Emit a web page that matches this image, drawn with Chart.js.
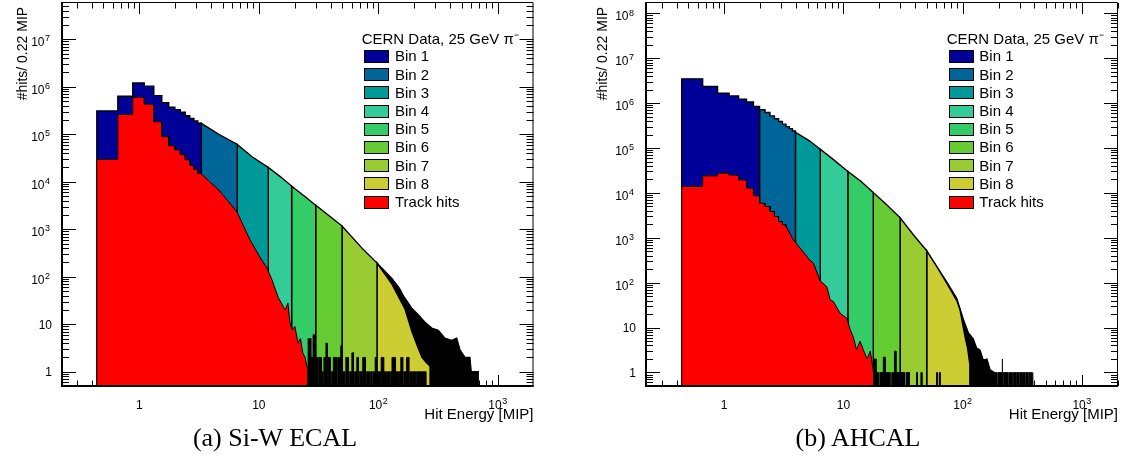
<!DOCTYPE html>
<html><head><meta charset="utf-8">
<script src="https://cdn.jsdelivr.net/npm/chart.js@4.4.1/dist/chart.umd.min.js"></script>
<style>
html,body{margin:0;padding:0;background:#fff;}
#wrap{position:relative;width:1124px;height:459px;overflow:hidden;background:#fff;}
canvas{position:absolute;top:0;}
.cap{position:absolute;font-family:"Liberation Serif","Times New Roman",serif;font-size:26px;line-height:26px;white-space:nowrap;transform:translateX(-50%);color:#000;}
.lg{position:absolute;font-family:"Liberation Sans",Arial,sans-serif;font-size:15px;line-height:15px;white-space:nowrap;color:#000;}
.sw{position:absolute;box-sizing:border-box;border:1px solid #000;width:25px;height:13px;}
</style></head><body>
<div id="wrap">
<canvas id="ecal" width="560" height="459" style="left:0px"></canvas>
<canvas id="ahcal" width="540" height="459" style="left:584px"></canvas>
<div id="cap1" class="cap" style="left:275px;top:425px"></div>
<div id="cap2" class="cap" style="left:858px;top:425px"></div>
<div id="lg1"></div><div id="lg2"></div>
</div>
<script>
// ---------------- data ----------------
const FLOOR = 0.5; // empty bins sit on the lower edge of the y axis
const seriesNames = ['Bin 1','Bin 2','Bin 3','Bin 4','Bin 5','Bin 6','Bin 7','Bin 8','Track hits'];
const seriesColors = ['#000099','#006699','#009999','#33cc99','#33cc66','#66cc33','#99cc33','#cccc33','#ff0000'];
const legendHeader = 'CERN Data, 25 GeV \u03c0\u207b';
const xTickValues = [1, 10, 100, 1000];
const xTickLabels = ['1', '10', '10^2', '10^3'];
const yTickValues = [1, 10, 100, 1e3, 1e4, 1e5, 1e6, 1e7, 1e8];
const yTickLabels = ['1', '10', '10^2', '10^3', '10^4', '10^5', '10^6', '10^7', '10^8'];
const xTitle = 'Hit Energy [MIP]';
const yTitle = '#hits/ 0.22 MIP';
const captions = ['(a) Si-W ECAL', '(b) AHCAL'];

// ECAL (a)
const ecalStepEdges = [0.44,0.66,0.88,1.10,1.32,1.54,1.76,1.98,2.20,2.42,2.64,2.86,3.08,3.30];
const ecalStepAll   = [3.1e5,6.3e5,1.2e6,1.03e6,6.5e5,4.6e5,3.7e5,3.3e5,2.9e5,2.45e5,2.15e5,1.9e5,1.7e5];
const ecalStepTrack = [2.96e4,2.6e5,6.0e5,4.3e5,1.83e5,8.9e4,5.7e4,4.7e4,3.7e4,2.9e4,2.2e4,1.8e4,1.5e4];
const ecalBinStarts = [0.44,3.30,6.6,12.0,18.8,29.9,49.7,97.5];
const ecalCurveE = [3.30,4.62,6.6,8.77,12.0,15.0,18.8,24.0,29.9,39.0,49.7,73.0,97.5];
const ecalCurveN = [1.7e5,1.0e5,6.1e4,3.36e4,2.0e4,1.3e4,8.1e3,5.0e3,3.2e3,1.9e3,1.17e3,4.0e2,1.94e2];
const ecalBin8E = [97.5,130,167,191,215,232,250,271];
const ecalBin8N = [194,70,21,7,3.2,2.0,1.6,1.3];
const ecalTailE = [97.5,130,150,164,190,215,246,280,318,361,411,453,483,532,585,600,687];
const ecalTailN = [194,92,58,38,22,16,11,8.3,7.5,5.1,4.6,5.1,2.9,2.0,2.0,1,1];
const ecalTrackE = [3.30,4.62,6.57,8.44,10.2,11.7,12.9,14.5,16.6,17.5,18.2,19.0,20.0,21.3,22.3,23.3,24.4,25.8];
const ecalTrackN = [1.45e4,6.7e3,2.3e3,593,260,152,85,37,19.9,28,11,7.5,9,4.0,5,2.5,2.0,1.0];
const ecalNoise = [[25.8,27.2,5],[27.2,28.4,2],[28.4,29.2,6],[29.2,31,2],[31.6,33.4,2],[33.4,34.4,1],[35,36.4,2],[36.4,37.4,4],[37.4,39.6,2],[40.4,42,1],[42,44.6,2],[45.6,48.4,2],[48.4,50,3.5],[50,52.4,1],[53.4,56,2],[57.2,60,1],[60,62,2.5],[63.2,66,1],[66,68,2],[69.4,73,1],[74.4,78,2],[79.6,84,1],[85.6,88,1],[89.6,94,1],[94,96.5,2],[98.5,104,1],[105.5,110,2],[111.5,116,1],[118,124,1],[126,130,1],[130,138,2],[140,146,1],[148,154,1],[154,160,2],[163,170,1],[172,180,2],[183,192,1],[195,205,1],[208,250,1]];

// AHCAL (b)
const ahcalStepEdges = [0.44,0.66,0.88,1.10,1.32,1.54,1.76,1.98,2.20,2.42,2.64,2.86,3.08,3.30,3.52,3.74,3.96];
const ahcalStepAll   = [3.47e6,2.35e6,1.66e6,1.45e6,1.23e6,1.06e6,8.4e5,7.1e5,6.2e5,5.2e5,4.5e5,3.9e5,3.4e5,3.0e5,2.7e5,2.4e5];
const ahcalStepTrack = [1.39e4,2.4e4,2.76e4,2.5e4,1.95e4,1.28e4,8.6e3,5.9e3,5.0e3,3.86e3,2.98e3,2.3e3,1.95e3];
const ahcalBinStarts = [0.44,1.98,3.96,6.4,10.9,17.8,29.9,50.0];
const ahcalCurveE = [3.96,5.19,6.4,8.41,10.9,14.1,17.8,23.2,29.9,38.6,50.0];
const ahcalCurveN = [2.25e5,1.45e5,9.4e4,5.3e4,3.0e4,1.8e4,1.02e4,5.4e3,2.79e3,1.17e3,513];
const ahcalBin8E = [50,60.7,73.6,89.3,95,104.7,110,115];
const ahcalBin8N = [513,229,98,40,24.9,6.3,3.5,1.5];
const ahcalTailE = [50,60.7,68.9,73.6,89.3,101,112,123,131,140,149,160,170,185];
const ahcalTailN = [513,229,137,105,45,16,7.6,5.6,3.5,3.2,1.9,2,1.15,1];
const ahcalTrackE = [3.30,3.81,5.19,5.6,6.38,7.26,7.74,8.25,9.38,10.7,11.4,12.1,12.9,13.8,14.7,15.8,16.8,17.9];
const ahcalTrackN = [1.8e3,902,323,273,110,81,42,38,21,16,9,6.2,3.2,5,3.2,2,3,1];
const ahcalNoise = [[17.9,18.8,2],[18.8,19.6,1],[20.2,21.6,1],[21.6,22.4,2.2],[22.4,24.6,1],[25.4,26.8,1],[26.8,27.6,3],[27.6,29.4,1],[30.4,32.6,1],[33.6,35.8,1],[41,41.8,1],[44.6,45.6,1],[60.4,61.2,1],[63.6,64.8,1],[185,194,1],[198,214,1],[214,218,2],[220,238,1],[243,260,1],[265,278,1],[283,294,1],[299,316,1],[321,333,1],[339,350,1],[356,366,1],[371,380,1],[384,389,1]];

// ---------------- helpers ----------------
const EPS = 1e-9;
const SANS = '"Liberation Sans", Arial, Helvetica, sans-serif';
function stepPts(edges, vals, a, b) {
  const pts = [];
  for (let i = 0; i < vals.length; i++) {
    if (edges[i] >= a - EPS && edges[i + 1] <= b + EPS) {
      pts.push({x: edges[i], y: vals[i]}, {x: edges[i + 1], y: vals[i]});
    }
  }
  return pts;
}
function curvePts(E, N, a, b) {
  const pts = [];
  for (let i = 0; i < E.length; i++) if (E[i] >= a - EPS && E[i] <= b + EPS) pts.push({x: E[i], y: N[i]});
  return pts;
}
function closed(pts) {
  return [{x: pts[0].x, y: FLOOR}].concat(pts, [{x: pts[pts.length - 1].x, y: FLOOR}]);
}
function bandPts(segs) {
  const pts = [];
  for (const [e0, e1, n] of segs) pts.push({x: e0, y: FLOOR}, {x: e0, y: n}, {x: e1, y: n}, {x: e1, y: FLOOR});
  return pts;
}
function lineDs(label, data, fillColor, order, bw) {
  return {label, data, showLine: true, fill: 'start', backgroundColor: fillColor, borderColor: '#000',
          borderWidth: bw, pointRadius: 0, pointHoverRadius: 0, tension: 0, order};
}
function buildDatasets(p) {
  const ds = [];
  for (let i = 0; i < 8; i++) {
    const a = p.binStarts[i];
    let pts;
    if (i === 7) pts = p.bin8E.map((e, k) => ({x: e, y: p.bin8N[k]}));
    else {
      const b = p.binStarts[i + 1];
      pts = stepPts(p.stepEdges, p.stepAll, a, b).concat(curvePts(p.curveE, p.curveN, a, b));
    }
    ds.push(lineDs(seriesNames[i], closed(pts), seriesColors[i], 2, 1.4));
  }
  const trk = stepPts(p.stepEdges, p.stepTrack, 0, 1e9).concat(p.trackE.map((e, k) => ({x: e, y: p.trackN[k]})));
  ds.push(lineDs(seriesNames[8], closed(trk), seriesColors[8], 1, 1));
  ds.push(lineDs('tail', closed(p.tailE.map((e, k) => ({x: e, y: p.tailN[k]}))), '#000', 3, 1.2));
  ds.push(lineDs('noise', bandPts(p.noise), '#000', 0, 0.8));
  return ds;
}
function logTicks(min, max) {
  const out = [];
  for (let d = Math.floor(Math.log10(min)); d <= Math.ceil(Math.log10(max)); d++) {
    for (let k = 1; k <= 9; k++) {
      const v = k * Math.pow(10, d);
      if (v >= min * (1 - 1e-9) && v <= max * (1 + 1e-9)) out.push([v, k === 1]);
    }
  }
  return out;
}
// label with ROOT-style superscript exponent; y = baseline of the base text
function drawLabel(ctx, text, x, y, align) {
  const parts = text.split('^');
  const base = parts[0], exp = parts[1] || '';
  ctx.font = '12px ' + SANS;
  const wb = ctx.measureText(base).width;
  ctx.font = '9px ' + SANS;
  const we = exp ? ctx.measureText(exp).width + 0.5 : 0;
  const x0 = align === 'center' ? x - (wb + we) / 2 : x - (wb + we);
  ctx.font = '12px ' + SANS;
  ctx.fillText(base, x0, y);
  if (exp) { ctx.font = '9px ' + SANS; ctx.fillText(exp, x0 + wb + 0.5, y - 4.6); }
}
const rootFrame = {
  id: 'rootFrame',
  beforeDatasetsDraw(chart) {
    const {ctx, chartArea: a, scales: {x, y}} = chart;
    ctx.save();
    ctx.strokeStyle = '#000'; ctx.lineWidth = 1;
    ctx.beginPath();
    for (const [v, major] of logTicks(x.min, x.max)) {
      const px = Math.round(x.getPixelForValue(v)) + 0.5;
      const len = major ? 11 : 5.5;
      ctx.moveTo(px, a.bottom); ctx.lineTo(px, a.bottom - len);
      ctx.moveTo(px, a.top); ctx.lineTo(px, a.top + len);
    }
    for (const [v, major] of logTicks(y.min, y.max)) {
      const py = Math.round(y.getPixelForValue(v)) + 0.5;
      const len = major ? 14 : 7;
      ctx.moveTo(a.left, py); ctx.lineTo(a.left + len, py);
      ctx.moveTo(a.right, py); ctx.lineTo(a.right - len, py);
    }
    ctx.stroke();
    ctx.restore();
  },
  afterDatasetsDraw(chart) {
    const {ctx, chartArea: a} = chart;
    ctx.save();
    ctx.strokeStyle = '#000';
    ctx.lineWidth = 1;
    ctx.beginPath();
    ctx.moveTo(a.left, a.top - 0.5); ctx.lineTo(a.right - 0.5, a.top - 0.5); ctx.lineTo(a.right - 0.5, a.bottom);
    ctx.stroke();
    ctx.lineWidth = 2;
    ctx.beginPath();
    ctx.moveTo(a.left, a.top - 1); ctx.lineTo(a.left, a.bottom); ctx.lineTo(a.right, a.bottom);
    ctx.stroke();
    ctx.restore();
  },
  afterDraw(chart) {
    const {ctx, chartArea: a, scales: {x, y}} = chart;
    ctx.save();
    ctx.fillStyle = '#000'; ctx.textAlign = 'left'; ctx.textBaseline = 'alphabetic';
    for (const t of x.ticks) {
      const i = xTickValues.indexOf(t.value);
      if (i < 0) continue;
      drawLabel(ctx, xTickLabels[i], x.getPixelForValue(t.value), a.bottom + 22.8, 'center');
    }
    for (const t of y.ticks) {
      const i = yTickValues.indexOf(t.value);
      if (i < 0) continue;
      const lab = yTickLabels[i];
      const hasExp = lab.indexOf('^') >= 0;
      drawLabel(ctx, lab, a.left - (hasExp ? 12 : 10), y.getPixelForValue(t.value) + 4.3 + (hasExp ? 2.5 : 0), 'right');
    }
    ctx.restore();
  }
};
function makePanel(id, p) {
  new Chart(document.getElementById(id), {
    type: 'scatter',
    data: {datasets: buildDatasets(p)},
    options: {
      responsive: false, animation: false, devicePixelRatio: 1, events: [],
      layout: {padding: {left: 0, top: 3, right: p.padRight, bottom: 0}},
      plugins: {legend: {display: false}, tooltip: {enabled: false}},
      scales: {
        x: {
          type: 'logarithmic', position: 'bottom', min: p.xMin, max: p.xMax,
          grid: {display: false, drawTicks: false}, border: {display: false},
          ticks: {display: false, autoSkip: false, maxRotation: 0, minRotation: 0},
          afterBuildTicks: s => { s.ticks = xTickValues.filter(v => v >= s.min && v <= s.max).map(v => ({value: v})); },
          afterFit: s => { s.height = 73; s.paddingLeft = 0; s.paddingRight = 0; },
          title: {display: true, text: xTitle, align: 'end', color: '#000',
                  font: {family: SANS, size: 15}, padding: {top: 0, bottom: 35.2}}
        },
        y: {
          type: 'logarithmic', position: 'left', min: FLOOR, max: p.yMax,
          grid: {display: false, drawTicks: false}, border: {display: false},
          ticks: {display: false, autoSkip: false},
          afterBuildTicks: s => { s.ticks = yTickValues.filter(v => v >= s.min && v <= s.max).map(v => ({value: v})); },
          afterFit: s => { s.width = 62; s.paddingTop = 0; s.paddingBottom = 0; },
          title: {display: true, text: yTitle + ' ', align: 'end', color: '#000',
                  font: {family: SANS, size: 14}, padding: {top: p.yTitlePad, bottom: 0}}
        }
      }
    },
    plugins: [rootFrame]
  });
}
function buildLegend(el, hx, sx, tx) {
  let html = '<div class="lg" style="left:' + hx + 'px;top:30.6px">' + legendHeader + '</div>';
  for (let k = 0; k < seriesNames.length; k++) {
    html += '<div class="sw" style="left:' + sx + 'px;top:' + (50 + 18.2 * k) + 'px;background:' + seriesColors[k] + '"></div>';
    html += '<div class="lg" style="left:' + tx + 'px;top:' + (48.3 + 18.2 * k) + 'px">' + seriesNames[k] + '</div>';
  }
  document.getElementById(el).innerHTML = html;
}

makePanel('ecal', {
  stepEdges: ecalStepEdges, stepAll: ecalStepAll, stepTrack: ecalStepTrack, binStarts: ecalBinStarts,
  curveE: ecalCurveE, curveN: ecalCurveN, bin8E: ecalBin8E, bin8N: ecalBin8N,
  tailE: ecalTailE, tailN: ecalTailN, trackE: ecalTrackE, trackN: ecalTrackN, noise: ecalNoise,
  xMin: 0.225, xMax: 1990, yMax: 5.8e7, padRight: 26.5, yTitlePad: 15
});
makePanel('ahcal', {
  stepEdges: ahcalStepEdges, stepAll: ahcalStepAll, stepTrack: ahcalStepTrack, binStarts: ahcalBinStarts,
  curveE: ahcalCurveE, curveN: ahcalCurveN, bin8E: ahcalBin8E, bin8N: ahcalBin8N,
  tailE: ahcalTailE, tailN: ahcalTailN, trackE: ahcalTrackE, trackN: ahcalTrackN, noise: ahcalNoise,
  xMin: 0.221, xMax: 2009, yMax: 1.7e8, padRight: 6, yTitlePad: 11
});
buildLegend('lg1', 361.7, 364, 395);
buildLegend('lg2', 946.7, 948.7, 979.3);
document.getElementById('cap1').textContent = captions[0];
document.getElementById('cap2').textContent = captions[1];
</script>
</body></html>
